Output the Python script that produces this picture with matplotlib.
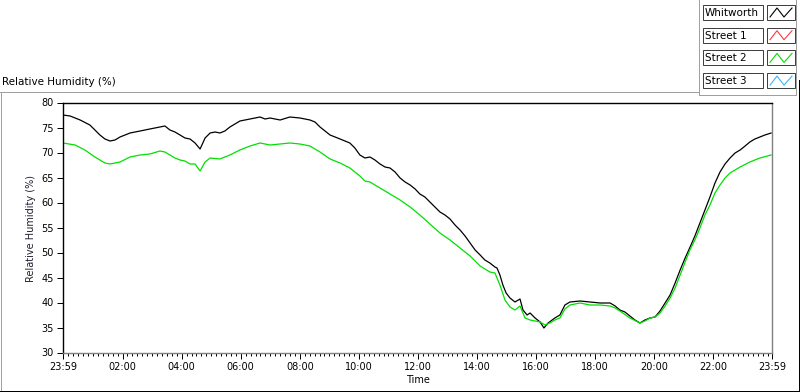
import matplotlib
matplotlib.use("Agg")
import matplotlib.pyplot as plt
from matplotlib.lines import Line2D
from matplotlib.patches import Rectangle

# ---------------- data ----------------
# time in hours elapsed since 23:59 (start of axis)
whit_t = [0.00, 0.24, 0.58, 0.91, 1.08, 1.25, 1.42, 1.59, 1.76, 1.93, 2.27, 2.61, 2.94, 3.28, 3.45,
          3.62, 3.79, 3.96, 4.13, 4.30, 4.47, 4.64, 4.81, 4.98, 5.15, 5.31, 5.48, 5.65, 5.82, 5.99,
          6.33, 6.67, 6.84, 7.01, 7.35, 7.68, 8.02, 8.36, 8.53, 8.70, 8.87, 9.04, 9.38, 9.71, 9.88,
          10.05, 10.22, 10.39, 10.56, 10.73, 10.90, 11.07, 11.24, 11.41, 11.58, 11.75, 11.92, 12.08,
          12.25, 12.42, 12.59, 12.76, 12.93, 13.10, 13.27, 13.44, 13.61, 13.78, 13.95, 14.12, 14.28,
          14.45, 14.62, 14.69, 14.79, 14.89, 15.00, 15.13, 15.30, 15.47, 15.57, 15.71, 15.81, 15.98,
          16.15, 16.28, 16.42, 16.65, 16.82, 16.99, 17.16, 17.50, 17.84, 18.18, 18.52, 18.69, 18.85,
          19.02, 19.19, 19.36, 19.53, 19.70, 19.87, 20.04, 20.21, 20.38, 20.55, 20.72, 20.89, 21.06,
          21.22, 21.39, 21.56, 21.73, 21.90, 22.07, 22.24, 22.41, 22.58, 22.75, 22.92, 23.09, 23.25,
          23.42, 23.59, 23.76, 23.97]
whit_v = [77.5, 77.3, 76.5, 75.5, 74.5, 73.5, 72.7, 72.3, 72.5, 73.1, 73.9, 74.3, 74.7, 75.1, 75.3,
          74.5, 74.1, 73.5, 72.9, 72.7, 71.9, 70.7, 72.9, 73.9, 74.1, 73.9, 74.3, 75.1, 75.7, 76.3,
          76.7, 77.1, 76.7, 76.9, 76.5, 77.1, 76.9, 76.5, 76.1, 75.1, 74.3, 73.5, 72.7, 71.9, 70.9,
          69.5, 68.9, 69.1, 68.5, 67.7, 67.1, 66.9, 66.1, 64.9, 64.1, 63.5, 62.7, 61.7,
          61.1, 60.1, 59.1, 58.1, 57.5, 56.7, 55.5, 54.5, 53.3, 51.9, 50.5, 49.5, 48.5,
          47.9, 47.1, 46.9, 45.5, 43.5, 41.9, 40.9, 40.1, 40.7, 38.5, 37.5, 37.9, 36.9,
          36.1, 34.9, 35.9, 36.9, 37.5, 39.5, 40.1, 40.3, 40.1, 39.9, 39.9, 39.3, 38.5,
          38.1, 37.3, 36.5, 35.9, 36.5, 36.9, 37.1, 38.3, 39.9, 41.5, 43.9, 46.5, 48.9,
          51.0, 53.3, 55.9, 58.5, 61.1, 63.9, 66.1, 67.7, 68.9, 69.9, 70.5, 71.3, 72.1,
          72.7, 73.1, 73.5, 73.9]

st2_t = [0.00, 0.41, 0.74, 1.08, 1.42, 1.59, 1.93, 2.27, 2.61, 2.94, 3.28, 3.45, 3.62, 3.79, 3.96,
         4.13, 4.30, 4.47, 4.64, 4.81, 4.98, 5.31, 5.65, 5.99, 6.33, 6.67, 7.01, 7.35, 7.68, 8.02,
         8.36, 8.70, 9.04, 9.38, 9.71, 10.05, 10.22, 10.39, 10.73, 11.07, 11.41, 11.75, 12.08, 12.42,
         12.76, 13.10, 13.44, 13.78, 14.12, 14.45, 14.62, 14.79, 14.96, 15.13, 15.30, 15.47, 15.64,
         15.81, 16.15, 16.32, 16.48, 16.65, 16.82, 16.99, 17.16, 17.50, 17.84, 18.18, 18.52, 18.69,
         18.85, 19.19, 19.53, 19.70, 19.87, 20.04, 20.21, 20.38, 20.55, 20.72, 20.89, 21.06, 21.22,
         21.39, 21.56, 21.73, 21.90, 22.07, 22.24, 22.41, 22.58, 22.92, 23.25, 23.59, 23.97]
st2_v = [71.9, 71.5, 70.5, 69.1, 67.9, 67.7, 68.1, 69.1, 69.5, 69.7, 70.3, 70.1, 69.5, 68.9, 68.5,
         68.3, 67.7, 67.7, 66.3, 68.1, 68.9, 68.7, 69.5, 70.5, 71.3, 71.9, 71.5, 71.7, 71.9, 71.7,
         71.3, 70.1, 68.7, 67.9, 66.9, 65.3, 64.3, 64.1, 62.9, 61.7, 60.5, 59.1, 57.5, 55.7,
         53.9, 52.5, 50.9, 49.3, 47.3, 46.1, 45.9, 43.5, 40.5, 39.1, 38.5, 39.3, 36.9,
         36.5, 36.1, 35.5, 35.9, 36.5, 36.9, 38.7, 39.5, 39.9, 39.5, 39.5, 39.3, 38.9,
         38.3, 36.9, 35.9, 36.3, 36.9, 37.1, 37.9, 39.3, 40.9, 42.9, 45.5, 48.1, 50.5,
         52.5, 54.9, 57.5, 59.5, 61.9, 63.5, 64.9, 65.9, 67.1, 68.1, 68.9, 69.5]

series_names = ["Whitworth", "Street 1", "Street 2", "Street 3"]
series_colors = ["#000000", "#ff3b3b", "#00e000", "#3cb4ff"]

x_tick_labels = ["23:59", "02:00", "04:00", "06:00", "08:00", "10:00", "12:00",
                 "14:00", "16:00", "18:00", "20:00", "22:00", "23:59"]
y_ticks = [30, 35, 40, 45, 50, 55, 60, 65, 70, 75, 80]

# ---------------- figure ----------------
W, H = 800, 392
fig = plt.figure(figsize=(W / 100, H / 100), dpi=100)
fig.patch.set_facecolor("white")
PX = 0.72  # one pixel in points


def fx(x):
    return x / W


def fy(y):
    return 1 - y / H


def hline(y, x0, x1, color):
    fig.add_artist(Line2D([fx(x0), fx(x1)], [fy(y), fy(y)], transform=fig.transFigure,
                          color=color, lw=PX, antialiased=False))


def vline(x, y0, y1, color):
    fig.add_artist(Line2D([fx(x), fx(x)], [fy(y0), fy(y1)], transform=fig.transFigure,
                          color=color, lw=PX, antialiased=False))


ax = fig.add_axes([fx(63), fy(352.5), fx(772) - fx(63), fy(102.5) - fy(352.5)])
ax.plot(whit_t, whit_v, color=series_colors[0], lw=0.9)
ax.plot(st2_t, st2_v, color=series_colors[2], lw=0.9)

ax.set_xlim(0, 24)
ax.set_ylim(30, 80)
off = 1 / 60
major = [0] + [h + off for h in range(2, 23, 2)] + [24]
ax.set_xticks(major)
ax.set_xticklabels(x_tick_labels)
ax.set_xticks([off + k / 6 for k in range(1, 144) if (k % 12) != 0], minor=True)
ax.set_yticks(y_ticks)
ax.set_yticklabels([str(v) for v in y_ticks])

ax.tick_params(axis="x", which="major", length=4, width=PX, pad=3, labelsize=7, colors="black")
ax.tick_params(axis="x", which="minor", length=2.2, width=PX)
ax.tick_params(axis="y", which="major", length=4.5, width=PX, pad=2, labelsize=7)

for s in ["left", "top"]:
    ax.spines[s].set_color("black")
    ax.spines[s].set_linewidth(1.0)
for s in ["right", "bottom"]:
    ax.spines[s].set_color("#808080")
    ax.spines[s].set_linewidth(1.0)

ax.set_xlabel("Time", fontsize=7, labelpad=2)
fig.text(fx(31), fy(228), "Relative Humidity (%)", rotation=90, ha="center", va="center",
         fontsize=7, color="#202030")

# title
fig.text(fx(2), fy(82), "Relative Humidity (%)", ha="left", va="center", fontsize=7.5)

# panel frame
hline(92, 0, 698.5, "#a0a0a0")
vline(0.5, 92, 391, "#a0a0a0")
hline(390.5, 0, 799, "black")
vline(798.5, 80, 391, "black")
# legend frame
vline(698.5, 0, 95, "#a0a0a0")
hline(95, 698.5, 796, "#a0a0a0")
vline(796, 0, 95, "#a0a0a0")

# legend entries
for i, (name, col) in enumerate(zip(series_names, series_colors)):
    top = 5 + i * 22.7
    h = 15
    fig.add_artist(Rectangle((fx(702.5), fy(top + h)), fx(763) - fx(702.5), fy(top) - fy(top + h),
                             transform=fig.transFigure, fill=False, edgecolor="#404040", lw=PX))
    fig.add_artist(Rectangle((fx(767), fy(top + h)), fx(795) - fx(767), fy(top) - fy(top + h),
                             transform=fig.transFigure, fill=False, edgecolor="#404040", lw=PX))
    fig.text(fx(705), fy(top + h / 2 + 0.5), name, ha="left", va="center", fontsize=7.5)
    xs = [770, 777, 784, 792]
    ys = [top + h - 3, top + 3, top + h - 3, top + 3]
    fig.add_artist(Line2D([fx(v) for v in xs], [fy(v) for v in ys], transform=fig.transFigure,
                          color=col, lw=0.8))

fig.savefig("out.png", dpi=100)
